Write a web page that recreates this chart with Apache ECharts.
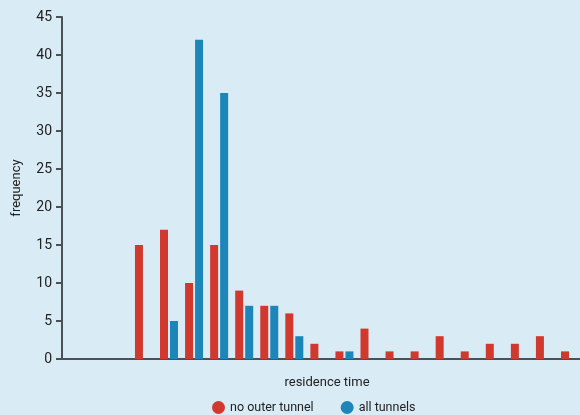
<!DOCTYPE html>
<html>
<head>
<meta charset="utf-8">
<script src="https://cdn.jsdelivr.net/npm/echarts@6/dist/echarts.min.js"></script>
<style>
  html, body { margin: 0; padding: 0; background: #d9ecf5; }
  #chart { width: 580px; height: 415px; }
</style>
</head>
<body>
<div id="chart"></div>
<script>
// residence time bins (position on the x axis)
var bins = [1, 2, 3, 4, 5, 6, 7, 8, 9, 10, 11, 12, 13, 14, 15, 16, 17, 18];
var noOuterTunnel = [15, 17, 10, 15, 9, 7, 6, 2, 1, 4, 1, 1, 3, 1, 2, 2, 3, 1];
var allTunnels = [null, 5, 42, 35, 7, 7, 3, null, 1, null, null, null, null, null, null, null, null, null];
var yTicks = [0, 5, 10, 15, 20, 25, 30, 35, 40, 45];

var font = 'Roboto, sans-serif';

function pairs(vals) {
  return bins.map(function (b, i) { return [b, vals[i]]; });
}

var chart = echarts.init(document.getElementById('chart'));
chart.setOption({
  backgroundColor: '#d9ecf5',
  animation: false,
  textStyle: { fontFamily: font },
  grid: { left: 62, right: 0, top: 17, bottom: 56, containLabel: false, outerBoundsMode: 'none' },
  legend: {
    top: 396,
    left: 207,
    itemGap: 27,
    icon: 'circle',
    itemWidth: 13,
    itemHeight: 13,
    textStyle: { fontFamily: font, fontSize: 12.5, color: '#222' },
    data: ['no outer tunnel', 'all tunnels']
  },
  xAxis: {
    type: 'value',
    min: -2.27,
    max: 18.4,
    name: 'residence time',
    nameLocation: 'middle',
    nameGap: 17,
    nameTextStyle: { fontFamily: font, fontSize: 13, color: '#222', padding: [0, 0, 0, 12] },
    axisLine: { show: true, lineStyle: { color: '#4b5257', width: 2 } },
    axisTick: { show: false },
    axisLabel: { show: false },
    splitLine: { show: false }
  },
  yAxis: {
    type: 'value',
    min: yTicks[0],
    max: yTicks[yTicks.length - 1],
    interval: 5,
    name: 'frequency',
    nameLocation: 'middle',
    nameGap: 39,
    nameTextStyle: { fontFamily: font, fontSize: 13, color: '#222' },
    axisLine: { show: true, onZero: false, lineStyle: { color: '#4b5257', width: 2 } },
    axisTick: { show: true, length: 6, lineStyle: { color: '#4b5257', width: 2 } },
    axisLabel: { fontFamily: font, fontSize: 14, color: '#222', margin: 10 },
    splitLine: { show: false }
  },
  series: [
    {
      name: 'no outer tunnel',
      type: 'bar',
      barWidth: 8,
      barGap: '25%',
      itemStyle: { color: '#d2392e' },
      data: pairs(noOuterTunnel)
    },
    {
      name: 'all tunnels',
      type: 'bar',
      barWidth: 8,
      barGap: '25%',
      itemStyle: { color: '#1d86b9' },
      data: pairs(allTunnels)
    }
  ]
});
</script>
</body>
</html>
